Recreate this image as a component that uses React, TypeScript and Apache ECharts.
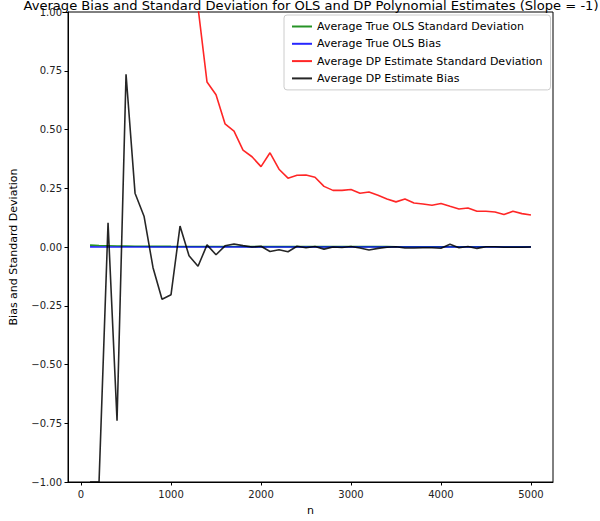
import React, { useEffect, useRef } from "react";
import * as echarts from "echarts";

const nValues = [
  100, 200, 300, 400, 500, 600, 700, 800, 900, 1000,
  1100, 1200, 1300, 1400, 1500, 1600, 1700, 1800, 1900, 2000,
  2100, 2200, 2300, 2400, 2500, 2600, 2700, 2800, 2900, 3000,
  3100, 3200, 3300, 3400, 3500, 3600, 3700, 3800, 3900, 4000,
  4100, 4200, 4300, 4400, 4500, 4600, 4700, 4800, 4900, 5000,
];

const olsSd = [
  0.008, 0.006, 0.005, 0.004, 0.0036, 0.0033, 0.003, 0.0028, 0.0027, 0.0025,
  0.0024, 0.0023, 0.0022, 0.0021, 0.0021, 0.002, 0.0019, 0.0019, 0.0018, 0.0018,
  0.0017, 0.0017, 0.0017, 0.0016, 0.0016, 0.0016, 0.0015, 0.0015, 0.0015, 0.0015,
  0.0014, 0.0014, 0.0014, 0.0014, 0.0013, 0.0013, 0.0013, 0.0013, 0.0013, 0.0013,
  0.0012, 0.0012, 0.0012, 0.0012, 0.0012, 0.0012, 0.0012, 0.0011, 0.0011, 0.0011,
];

const olsBias = [
  0.0004, -0.0003, 0.0002, -0.0001, 0.0001, 0.0002, -0.0002, 0.0001, 0.0, -0.0001,
  0.0001, 0.0, 0.0001, -0.0001, 0.0, 0.0001, 0.0, -0.0001, 0.0, 0.0,
  0.0001, 0.0, 0.0, -0.0001, 0.0, 0.0, 0.0001, 0.0, 0.0, 0.0,
  0.0, 0.0, -0.0001, 0.0, 0.0, 0.0, 0.0, 0.0001, 0.0, 0.0,
  0.0, 0.0, 0.0, 0.0, 0.0, 0.0, 0.0, 0.0, 0.0, 0.0,
];

const dpSd = [
  12.5, 7.8, 5.4, 4.2, 3.3, 2.7, 2.2, 1.85, 1.6, 1.4,
  1.25, 1.12, 1.02, 0.702, 0.648, 0.524, 0.493, 0.412, 0.384, 0.342,
  0.401, 0.331, 0.293, 0.305, 0.306, 0.297, 0.258, 0.241, 0.241, 0.245,
  0.229, 0.234, 0.22, 0.204, 0.192, 0.204, 0.187, 0.183, 0.178, 0.185,
  0.173, 0.162, 0.166, 0.152, 0.152, 0.149, 0.138, 0.152, 0.142, 0.136,
];

const dpBias = [
  -1.0, -1.0, 0.103, -0.739, 0.735, 0.229, 0.131, -0.088, -0.222, -0.203,
  0.089, -0.037, -0.082, 0.009, -0.033, 0.005, 0.013, 0.006, 0.0, 0.003,
  -0.019, -0.012, -0.02, 0.003, -0.003, 0.002, -0.009, 0.0, -0.002, 0.002,
  -0.004, -0.013, -0.006, -0.001, 0.001, -0.004, -0.004, -0.003, -0.003, -0.005,
  0.012, -0.003, 0.002, -0.006, 0.001, 0.001, -0.001, -0.001, -0.001, 0.0,
];

const xTicks = [0, 1000, 2000, 3000, 4000, 5000];
const seriesNames = [
  "Average True OLS Standard Deviation",
  "Average True OLS Bias",
  "Average DP Estimate Standard Deviation",
  "Average DP Estimate Bias",
];
const titleText = "Average Bias and Standard Deviation for OLS and DP Polynomial Estimates (Slope = -1)";

const FONT = "DejaVu Sans";

export default function App() {
  const ref = useRef<HTMLDivElement>(null);
  useEffect(() => {
    if (!ref.current) return;
    const chart = echarts.init(ref.current, undefined, { renderer: "svg" });
    const pair = (ys: number[]) => nValues.map((n, i) => [n, ys[i]]);
    const colors = ["#008000", "#0000ff", "#ff0000", "#000000"];
    const datasets = [olsSd, olsBias, dpSd, dpBias];
    chart.setOption({
      animation: false,
      textStyle: { fontFamily: FONT },
      title: {
        text: titleText,
        left: 306,
        textAlign: "center",
        top: -6,
        textStyle: { fontFamily: FONT, fontSize: 13.1, fontWeight: "normal", color: "#000" },
      },
      legend: {
        orient: "vertical",
        left: 284,
        top: 15,
        padding: [5, 8, 5, 8],
        itemWidth: 20,
        itemHeight: 2,
        itemGap: 4.3,
        icon: "rect",
        borderColor: "#cccccc",
        borderWidth: 1,
        borderRadius: 3,
        backgroundColor: "rgba(255,255,255,0.8)",
        textStyle: { fontFamily: FONT, fontSize: 11, color: "#000", lineHeight: 13 },
        data: seriesNames,
      },
      grid: { left: 65, right: 47, top: 12, bottom: 34, show: true, borderColor: "#000", borderWidth: 1, backgroundColor: "transparent" },
      xAxis: {
        type: "value",
        min: -145,
        max: 5245,
        name: "n",
        nameLocation: "middle",
        nameGap: 23,
        nameTextStyle: { fontFamily: FONT, fontSize: 11, color: "#000" },
        splitLine: { show: false },
        axisLine: { show: true, onZero: false, lineStyle: { color: "#000", width: 1 } },
        axisTick: { show: true, length: 3.5, lineStyle: { color: "#000" }, customValues: xTicks },
        axisLabel: {
          fontFamily: FONT,
          fontSize: 10,
          color: "#222",
          margin: 7,
          customValues: xTicks,
          formatter: (v: number) => String(v),
        },
      },
      yAxis: {
        type: "value",
        min: -1,
        max: 1,
        interval: 0.25,
        name: "Bias and Standard Deviation",
        nameLocation: "middle",
        nameGap: 49,
        nameTextStyle: { fontFamily: FONT, fontSize: 11, color: "#000" },
        splitLine: { show: false },
        axisLine: { show: true, onZero: false, lineStyle: { color: "#000", width: 1 } },
        axisTick: { show: true, length: 3.5, lineStyle: { color: "#000" } },
        axisLabel: {
          fontFamily: FONT,
          fontSize: 10,
          color: "#222",
          margin: 6,
          formatter: (v: number) => v.toFixed(2).replace("-", "\u2212"),
        },
      },
      series: seriesNames.map((name, i) => ({
        name,
        type: "line",
        data: pair(datasets[i]),
        symbol: "none",
        clip: true,
        z: 2 + i,
        color: colors[i],
        lineStyle: { color: colors[i], width: 1.6, opacity: 0.85 },
        itemStyle: { color: colors[i], opacity: 0.85 },
      })),
    });
    return () => chart.dispose();
  }, []);
  return (
    <div
      ref={ref}
      style={{ position: "fixed", left: 0, top: 0, width: 600, height: 521, background: "#fff" }}
    />
  );
}
